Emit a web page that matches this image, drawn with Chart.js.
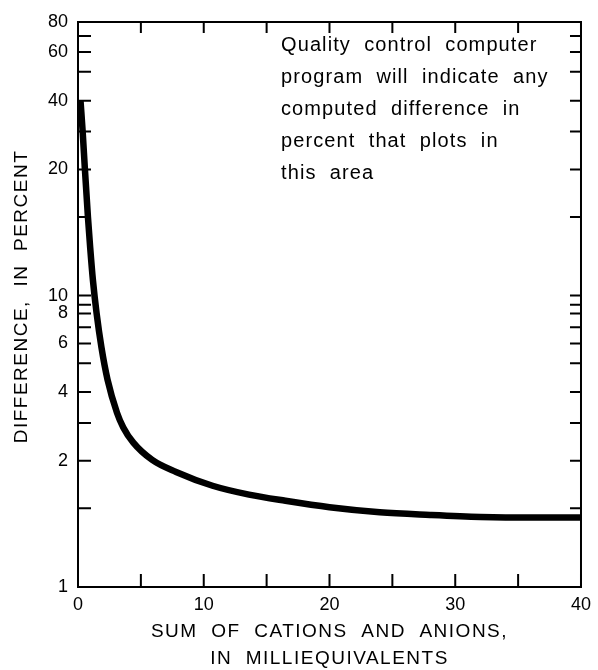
<!DOCTYPE html>
<html lang="en">
<head>
    <meta charset="UTF-8">
    <script src="https://cdn.jsdelivr.net/npm/chart.js@4.4.1/dist/chart.umd.min.js"></script>
    <title>Difference in percent</title>
    <style>
        body {margin: 0; background: #fff;}
        #wrap {width: 598px; height: 670px;}
    </style>
</head>
<body>
    <div id="wrap">
        <canvas id="chart" width="598" height="670"></canvas>
    </div>

    <script>
    // curve
    const sumMeq = [0.2, 0.37, 0.55, 0.79, 0.97, 1.19, 1.48, 1.86, 2.35, 3.1, 3.6, 4.4, 5.9, 7.8, 10.7, 13.6, 16.5, 20, 24, 28, 32, 36, 40];
    const diffPct = [40, 30, 20, 15, 12.8, 10.8, 8, 5.8, 4.4, 3.3, 2.86, 2.43, 2.02, 1.87, 1.72, 1.63, 1.57, 1.51, 1.47, 1.45, 1.435, 1.43, 1.43];

    const xTicks = [0, 5, 10, 15, 20, 25, 30, 35, 40];
    const xLabels = [0, 10, 20, 30, 40];
    const yTicks = [1, 1.5, 2, 3, 4, 5, 6, 7, 8, 9, 10, 15, 20, 30, 40, 50, 60, 70, 80];
    const yLabels = [1, 2, 4, 6, 8, 10, 20, 40, 60, 80];

    // the figure's own ruling within one decade (fraction of a decade for each step)
    const decadeSteps = [1, 1.5, 2, 3, 4, 5, 6, 7, 8, 9, 10];
    const decadeFrac = [0, 0.27, 0.433, 0.563, 0.669, 0.768, 0.836, 0.891, 0.939, 0.969, 1];

    const note = ['Quality  control  computer', 'program  will  indicate  any', 'computed  difference  in', 'percent  that  plots  in', 'this  area'];
    const xTitle = ['SUM  OF  CATIONS  AND  ANIONS,', 'IN  MILLIEQUIVALENTS'];
    const yTitle = 'DIFFERENCE,  IN  PERCENT';

    const FONT = '"Liberation Sans", Arial, sans-serif';

    function warp(v) {
        const d = Math.floor(Math.log10(v) + 1e-9);
        const r = v / Math.pow(10, d);
        for (let i = 1; i < decadeSteps.length; i++) {
            if (r <= decadeSteps[i] + 1e-9) {
                const t = Math.log(r / decadeSteps[i - 1]) / Math.log(decadeSteps[i] / decadeSteps[i - 1]);
                return d + decadeFrac[i - 1] + t * (decadeFrac[i] - decadeFrac[i - 1]);
            }
        }
        return d + 1;
    }

    function unwarp(w) {
        const d = Math.floor(w);
        const f = w - d;
        for (let i = 1; i < decadeFrac.length; i++) {
            if (f <= decadeFrac[i]) {
                const t = (f - decadeFrac[i - 1]) / (decadeFrac[i] - decadeFrac[i - 1]);
                return Math.pow(10, d) * decadeSteps[i - 1] * Math.pow(decadeSteps[i] / decadeSteps[i - 1], t);
            }
        }
        return Math.pow(10, d + 1);
    }

    class WarpScale extends Chart.LinearScale {
        buildTicks() {
            return yTicks.map(v => ({value: v}));
        }
        getPixelForValue(value) {
            const a = warp(this.min), b = warp(this.max);
            return this.getPixelForDecimal((warp(value) - a) / (b - a));
        }
        getValueForPixel(pixel) {
            const a = warp(this.min), b = warp(this.max);
            return unwarp(a + this.getDecimalForPixel(pixel) * (b - a));
        }
    }
    WarpScale.id = 'warp';
    WarpScale.defaults = {};
    Chart.register(WarpScale);

    const framePlugin = {
        id: 'frame',
        afterDraw(chart) {
            const ctx = chart.ctx;
            const a = chart.chartArea;
            const xs = chart.scales.x, ys = chart.scales.y;
            ctx.save();
            ctx.strokeStyle = '#000';
            ctx.lineWidth = 2;
            ctx.strokeRect(a.left, a.top, a.right - a.left, a.bottom - a.top);
            ctx.beginPath();
            xs.ticks.forEach(t => {
                const px = xs.getPixelForValue(t.value);
                ctx.moveTo(px, a.bottom); ctx.lineTo(px, a.bottom - 13);
                ctx.moveTo(px, a.top); ctx.lineTo(px, a.top + 11);
            });
            ys.ticks.forEach(t => {
                const py = ys.getPixelForValue(t.value);
                ctx.moveTo(a.left, py); ctx.lineTo(a.left + 13, py);
                ctx.moveTo(a.right, py); ctx.lineTo(a.right - 11, py);
            });
            ctx.stroke();

            ctx.fillStyle = '#000';
            ctx.textBaseline = 'middle';

            // note in the upper right
            ctx.font = '20px ' + FONT;
            ctx.letterSpacing = '1.1px';
            ctx.textAlign = 'left';
            note.forEach((line, i) => {
                ctx.fillText(line, a.left + 203, a.top + 23 + i * 32);
            });

            // axis titles
            ctx.font = '19px ' + FONT;
            ctx.letterSpacing = '1.5px';
            ctx.textAlign = 'center';
            const cx = (a.left + a.right) / 2;
            xTitle.forEach((line, i) => {
                ctx.fillText(line, cx, a.bottom + 45 + i * 27);
            });
            ctx.translate(22, (a.top + a.bottom) / 2 - 8);
            ctx.rotate(-Math.PI / 2);
            ctx.fillText(yTitle, 0, 0);
            ctx.restore();
        }
    };

    const ctx = document.getElementById('chart').getContext('2d');

    const config = {
        type: 'line',
        data: {
            datasets: [{
                data: sumMeq.map((x, i) => ({x: x, y: diffPct[i]})),
                borderColor: '#000',
                borderWidth: 6.5,
                pointRadius: 0,
                cubicInterpolationMode: 'monotone',
                fill: false
            }]
        },
        options: {
            responsive: false,
            animation: false,
            layout: {padding: {top: 22, right: 15, left: 0, bottom: 0}},
            plugins: {
                legend: {display: false},
                tooltip: {enabled: false}
            },
            scales: {
                x: {
                    type: 'linear',
                    min: 0,
                    max: 40,
                    afterBuildTicks: s => { s.ticks = xTicks.map(v => ({value: v})); },
                    afterFit: s => { s.height = 83; },
                    grid: {display: false, drawTicks: false},
                    border: {display: false},
                    ticks: {
                        autoSkip: false,
                        maxRotation: 0,
                        padding: 7,
                        color: '#000',
                        font: {family: FONT, size: 18},
                        callback: v => xLabels.includes(v) ? String(v) : ''
                    }
                },
                y: {
                    type: 'warp',
                    min: 1,
                    max: 80,
                    afterFit: s => { s.width = 78; },
                    grid: {display: false, drawTicks: false},
                    border: {display: false},
                    ticks: {
                        autoSkip: false,
                        padding: 10,
                        color: '#000',
                        font: {family: FONT, size: 18},
                        callback: v => yLabels.includes(v) ? String(v) : ''
                    }
                }
            }
        },
        plugins: [framePlugin]
    };

    let myChart = new Chart(ctx, config);
    </script>
</body>
</html>
